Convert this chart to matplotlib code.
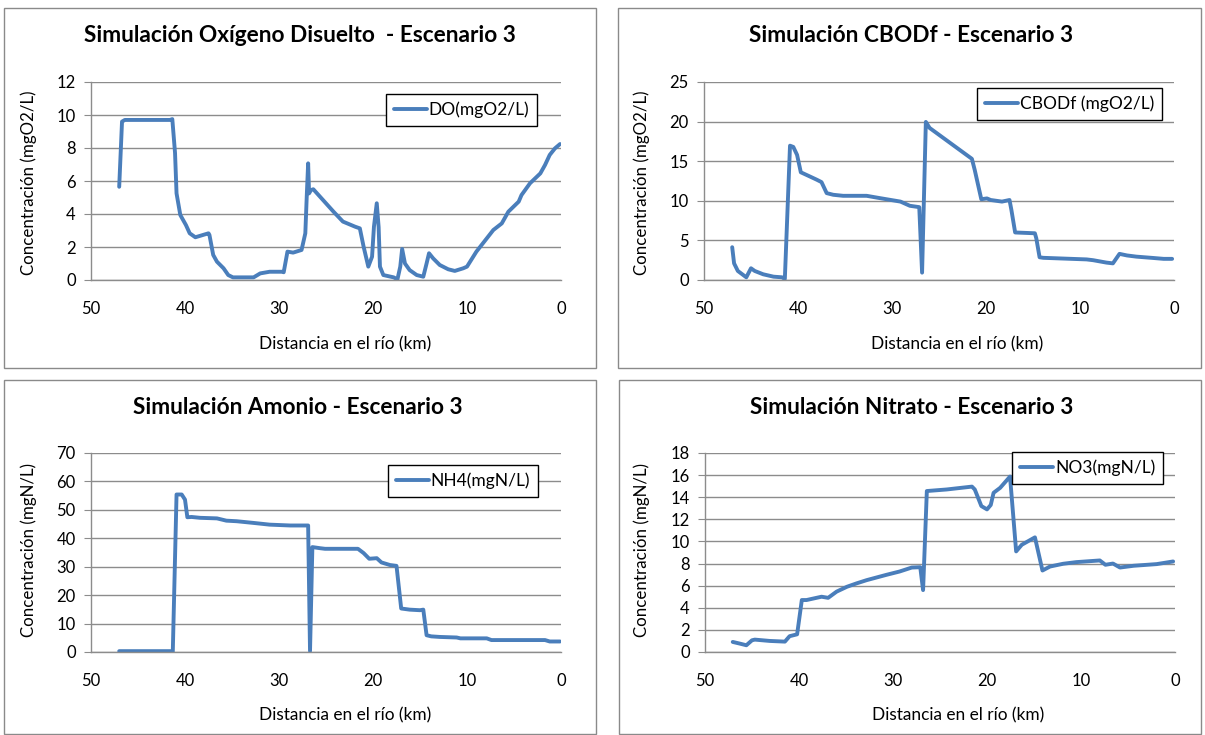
import matplotlib
matplotlib.use("Agg")
import matplotlib.pyplot as plt
from matplotlib.patches import Rectangle

plt.rcParams['font.family'] = ['Lato', 'DejaVu Sans']

# ---------------- data ----------------
do_km = [47.0, 46.7, 46.4, 44.0, 41.6, 41.35, 41.06, 40.9, 40.5, 39.9, 39.5, 38.9,
         37.5, 37.4, 37.0, 36.6, 35.9, 35.4, 34.9, 32.7, 32.0, 31.0, 29.7, 29.5,
         29.1, 28.5, 27.6, 27.2, 27.05, 26.9, 26.8, 26.6, 26.35, 24.2, 23.2, 21.9,
         21.4, 21.0, 20.5, 20.1, 19.9, 19.6, 19.4, 19.26, 18.9, 17.8, 17.4, 17.1,
         16.9, 16.6, 16.1, 15.35, 14.65, 14.3, 14.04, 13.6, 12.9, 12.0, 11.3, 10.4,
         10.0, 9.0, 7.9, 7.2, 6.3, 5.6, 4.5, 4.2, 3.3, 2.2, 1.7, 1.2, 0.64, 0.1]
do_val = [5.65, 9.6, 9.7, 9.7, 9.7, 9.75, 7.7, 5.25, 3.94, 3.33, 2.83, 2.59,
          2.83, 2.73, 1.52, 1.11, 0.71, 0.30, 0.16, 0.16, 0.40, 0.50, 0.50, 0.47,
          1.72, 1.66, 1.82, 2.83, 5.05, 7.07, 5.25, 5.45, 5.5, 4.14, 3.54, 3.23,
          3.13, 2.02, 0.81, 1.41, 3.23, 4.65, 3.2, 0.81, 0.30, 0.16, 0.04, 0.81,
          1.88, 1.0, 0.6, 0.3, 0.2, 1.0, 1.62, 1.31, 0.91, 0.65, 0.55, 0.71,
          0.81, 1.72, 2.52, 3.03, 3.43, 4.14, 4.75, 5.15, 5.86, 6.46, 6.97, 7.58, 7.98, 8.24]

cbod_km = [47.0, 46.8, 46.4, 45.5, 45.0, 44.6, 43.7, 42.6, 41.7, 41.4, 40.85, 40.5,
           40.1, 39.7, 38.9, 38.0, 37.5, 36.95, 36.25, 35.2, 32.7, 31.3, 29.1, 28.1,
           27.1, 26.8, 26.4, 26.0, 21.5, 21.2, 20.5, 19.9, 19.5, 18.3, 17.5, 17.3,
           16.9, 14.8, 14.65, 14.3, 13.9, 9.3, 8.6, 7.2, 6.5, 5.8, 5.0, 4.0, 2.2, 1.1, 0.2]
cbod_val = [4.14, 2.1, 1.14, 0.34, 1.48, 1.14, 0.72, 0.42, 0.34, 0.13, 16.96, 16.8,
            15.8, 13.6, 13.16, 12.66, 12.36, 10.97, 10.76, 10.63, 10.63, 10.34, 9.9, 9.37,
            9.2, 0.93, 19.96, 19.2, 15.3, 13.9, 10.2, 10.3, 10.1, 9.9, 10.1, 8.86,
            6.0, 5.9, 5.27, 2.87, 2.8, 2.6, 2.5, 2.2, 2.1, 3.3, 3.1, 2.95, 2.78, 2.67, 2.67]

nh4_km = [47.0, 41.6, 41.3, 40.9, 40.35, 40.0, 39.75, 39.3, 38.4, 36.6, 35.6, 34.5,
          32.7, 31.0, 28.8, 26.9, 26.7, 26.45, 25.6, 25.1, 21.6, 21.0, 20.4, 19.6,
          19.1, 18.2, 17.5, 17.0, 16.1, 15.0, 14.65, 14.3, 13.8, 12.9, 11.1, 10.7,
          7.9, 7.4, 1.7, 1.2, 0.1]
nh4_val = [0.3, 0.3, 0.0, 55.4, 55.4, 53.6, 47.4, 47.5, 47.2, 47.0, 46.2, 46.0,
           45.4, 44.8, 44.5, 44.5, 0.3, 36.9, 36.5, 36.3, 36.3, 34.8, 32.8, 33.0,
           31.5, 30.6, 30.3, 15.3, 14.9, 14.7, 14.9, 5.9, 5.5, 5.3, 5.1, 4.8,
           4.8, 4.2, 4.2, 3.7, 3.7]

no3_km = [47.05, 46.3, 45.6, 45.0, 44.7, 43.1, 41.5, 41.0, 40.2, 39.7, 39.2, 37.6,
          36.9, 36.0, 34.9, 33.9, 32.8, 30.7, 29.3, 28.0, 27.1, 26.8, 26.4, 24.3,
          21.6, 21.3, 20.6, 20.0, 19.6, 19.3, 18.6, 17.55, 16.9, 16.3, 14.9, 14.1,
          13.3, 11.9, 10.5, 8.0, 7.4, 6.6, 5.85, 4.4, 1.95, 0.2]
no3_val = [0.91, 0.76, 0.61, 1.06, 1.12, 1.0, 0.94, 1.43, 1.6, 4.7, 4.7, 5.0,
           4.9, 5.46, 5.9, 6.2, 6.5, 6.98, 7.28, 7.64, 7.67, 5.6, 14.56, 14.7,
           14.96, 14.7, 13.2, 12.9, 13.3, 14.4, 14.85, 15.87, 9.1, 9.7, 10.37, 7.37,
           7.73, 7.98, 8.13, 8.28, 7.89, 8.0, 7.64, 7.8, 7.95, 8.19]

titles = ["Simulación Oxígeno Disuelto  - Escenario 3",
          "Simulación CBODf - Escenario 3",
          "Simulación Amonio - Escenario 3",
          "Simulación Nitrato - Escenario 3"]
series_labels = ["DO(mgO2/L)", "CBODf (mgO2/L)", "NH4(mgN/L)", "NO3(mgN/L)"]
y_labels = ["Concentración (mgO2/L)", "Concentración (mgO2/L)",
            "Concentración (mgN/L)", "Concentración (mgN/L)"]
x_label = "Distancia en el río (km)"
y_maxes = [12, 25, 70, 18]
y_steps = [2, 5, 10, 2]
x_ticks = [50, 40, 30, 20, 10, 0]

# ---------------- layout (pixels) ----------------
W, H = 1205, 735
fig = plt.figure(figsize=(W / 100, H / 100), dpi=100)
fig.patch.set_facecolor('white')

def fx(px):
    return px / W

def fy(py):
    return 1 - py / H

# plot areas: (left, right, top, bottom) in pixels
areas = [(91, 561, 82, 280), (704, 1174, 82, 280),
         (91, 561, 453, 652), (705, 1175, 453, 652)]
borders = [(4, 596, 8, 368), (618, 1201, 8, 368),
           (4, 596, 380, 734), (619, 1201, 380, 734)]
title_pos = [(300, 36), (911, 36), (298, 407), (912, 407)]
xlabel_pos = [(345, 344), (957, 344), (345, 715), (958, 715)]
ylabel_pos = [(29, 183), (642, 183), (29, 550), (642, 550)]
legend_anchor = [(537, 94), (1162, 88), (538, 465), (1163, 452)]

xs = [do_km, cbod_km, nh4_km, no3_km]
ys = [do_val, cbod_val, nh4_val, no3_val]

line_color = '#4a7ebb'
grid_color = '#8c8c8c'

for i in range(4):
    bx0, bx1, by0, by1 = borders[i]
    fig.add_artist(Rectangle((fx(bx0), fy(by1)), fx(bx1) - fx(bx0), fy(by0) - fy(by1),
                             transform=fig.transFigure, fill=False,
                             edgecolor='#8a8a8a', lw=1.0))
    l, r, t, b = areas[i]
    ax = fig.add_axes([fx(l), fy(b), fx(r) - fx(l), fy(t) - fy(b)])
    ax.plot(xs[i], ys[i], color=line_color, lw=2.8, solid_joinstyle='round',
            solid_capstyle='round', label=series_labels[i])
    ax.set_xlim(50, 0)
    ax.set_ylim(0, y_maxes[i])
    ax.set_xticks(x_ticks)
    ax.set_yticks(list(range(0, y_maxes[i] + 1, y_steps[i])))
    ax.grid(axis='y', color=grid_color, lw=1.0)
    ax.set_axisbelow(True)
    for s in ['top', 'right']:
        ax.spines[s].set_visible(False)
    for s in ['left', 'bottom']:
        ax.spines[s].set_color(grid_color)
        ax.spines[s].set_linewidth(1.0)
    ax.tick_params(axis='y', length=5, color=grid_color, pad=6, labelsize=12)
    ax.tick_params(axis='x', length=0, pad=15, labelsize=12)
    for lab in ax.get_xticklabels() + ax.get_yticklabels():
        lab.set_color('#000000')

    fig.text(fx(title_pos[i][0]), fy(title_pos[i][1]), titles[i], ha='center', va='center',
             fontsize=16.3, fontweight='bold')
    fig.text(fx(xlabel_pos[i][0]), fy(xlabel_pos[i][1]), x_label, ha='center', va='center',
             fontsize=12.4)
    fig.text(fx(ylabel_pos[i][0]), fy(ylabel_pos[i][1]), y_labels[i], ha='center', va='center',
             fontsize=12.2, rotation=90)

    leg = ax.legend(loc='upper right', bbox_to_anchor=(fx(legend_anchor[i][0]), fy(legend_anchor[i][1])),
                    bbox_transform=fig.transFigure, frameon=True, fancybox=False,
                    edgecolor='black', framealpha=1, borderaxespad=0, handlelength=1.9,
                    handletextpad=0.1, borderpad=0.45, fontsize=12.5)
    leg.get_frame().set_linewidth(1.0)

fig.savefig('out.png', dpi=100)
